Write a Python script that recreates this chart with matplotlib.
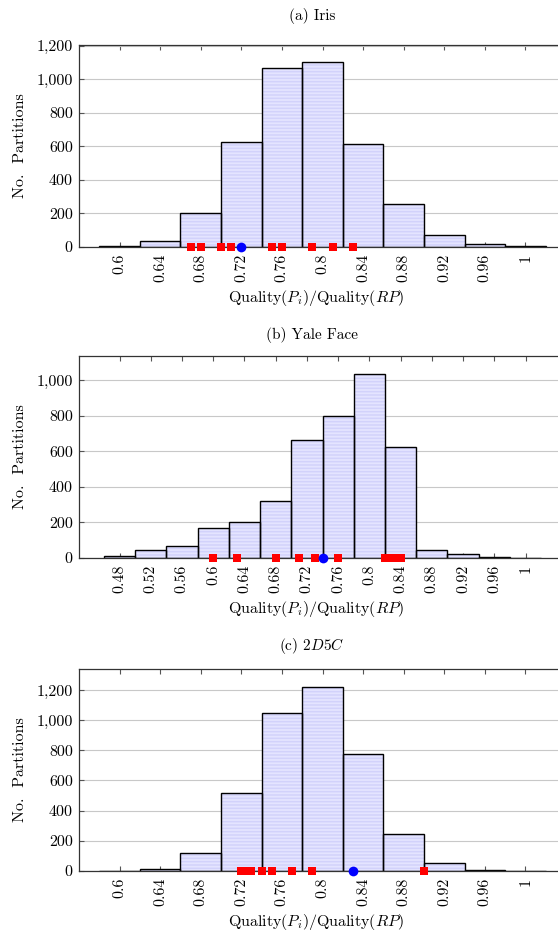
import numpy as np
import matplotlib
matplotlib.use("Agg")
import matplotlib.pyplot as plt
from matplotlib.ticker import FuncFormatter

# Donnees --------------------------------------------------------------------
iris_centers = [0.60, 0.64, 0.68, 0.72, 0.76, 0.80, 0.84, 0.88, 0.92, 0.96, 1.00]
iris_counts = [2, 32, 199, 626, 1065, 1102, 612, 257, 68, 14, 3]
iris_runs = [0.67, 0.68, 0.70, 0.71, 0.75, 0.76, 0.79, 0.81, 0.83]
iris_best = [0.72]

yale_centers = [0.48, 0.52, 0.56, 0.60, 0.64, 0.68, 0.72, 0.76, 0.80, 0.84,
                0.88, 0.92, 0.96, 1.00]
yale_counts = [9, 43, 67, 166, 200, 319, 666, 798, 1032, 623, 47, 20, 6, 2]
yale_runs = [0.60, 0.63, 0.68, 0.71, 0.73, 0.76, 0.82, 0.83, 0.84]
yale_best = [0.74]

d2c5_centers = [0.60, 0.64, 0.68, 0.72, 0.76, 0.80, 0.84, 0.88, 0.92, 0.96, 1.00]
d2c5_counts = [2, 11, 121, 520, 1046, 1218, 773, 242, 55, 9, 2]
d2c5_runs = [0.72, 0.725, 0.73, 0.74, 0.75, 0.77, 0.79, 0.90]
d2c5_best = [0.83]

titles = ["(a) Iris", "(b) Yale Face", "(c) $2D5C$"]
xlabel = "Quality($P_i$)/Quality($RP$)"
ylabel = "No.  Partitions"


def main():
    plt.rcParams["font.family"] = "serif"
    plt.rcParams["font.serif"] = ["cmr10", "DejaVu Serif"]
    plt.rcParams["mathtext.fontset"] = "cm"
    plt.rcParams["axes.formatter.use_mathtext"] = True
    plt.rcParams["hatch.linewidth"] = 1.1

    W, H = 558, 934
    fig = plt.figure(figsize=(W / 100, H / 100), dpi=100)

    # (centres, comptes, runs, meilleur, ymax, yticks, haut de l'axe px, titre px)
    panels = [
        (iris_centers, iris_counts, iris_runs, iris_best, 1206,
         np.arange(0, 1201, 200), 44.7, 15.5),
        (yale_centers, yale_counts, yale_runs, yale_best, 1136,
         np.arange(0, 1001, 200), 356.0, 335.5),
        (d2c5_centers, d2c5_counts, d2c5_runs, d2c5_best, 1339,
         np.arange(0, 1201, 200), 669.0, 646.0),
    ]

    left_px, right_px, h_px = 79.0, 566.0, 202.0
    first_px, last_px = 119.5, 525.5

    for i, (cent, cnt, runs, best, ymax, yt, top_px, title_px) in enumerate(panels):
        ax = fig.add_axes([left_px / W, 1 - (top_px + h_px) / H,
                           (right_px - left_px) / W, h_px / H])

        # limites x : premiere / derniere graduation a ~40 px des bords
        per_px = (cent[-1] - cent[0]) / (last_px - first_px)
        ax.set_xlim(cent[0] - (first_px - left_px) * per_px,
                    cent[-1] + (right_px - last_px) * per_px)
        ax.set_ylim(0, ymax)

        width = cent[1] - cent[0]
        ax.bar(cent, cnt, width=width, color="#e4e4ff", edgecolor="#d2d2fb",
               hatch="-----", linewidth=0, zorder=1)
        ax.bar(cent, cnt, width=width, fill=False, edgecolor="black",
               linewidth=1.0, zorder=2)

        ax.plot(runs, np.zeros(len(runs)), "s", color="#ff0000", ms=6.2,
                mew=0, clip_on=False, zorder=6)
        ax.plot(best, np.zeros(len(best)), "o", color="#0000ff", ms=7.0,
                mew=0, clip_on=False, zorder=7)

        ax.set_axisbelow(True)
        ax.yaxis.grid(True, color="#c8c8c8", linewidth=0.8)
        ax.set_xticks(cent)
        ax.set_xticklabels(["%g" % c for c in cent], rotation=90)
        ax.set_yticks(yt)
        ax.yaxis.set_major_formatter(FuncFormatter(lambda v, p: "{:,}".format(int(v))))
        ax.tick_params(axis="both", direction="in", length=3.5, width=0.8,
                       color="#555555", labelsize=11.5)
        ax.tick_params(axis="x", top=True, pad=5)
        ax.tick_params(axis="y", right=True, pad=4.5)
        for s in ax.spines.values():
            s.set_color("#333333")
            s.set_linewidth(0.9)

        ax.set_xlabel(xlabel, fontsize=11.5)
        ax.xaxis.label.set_va("center")
        ax.xaxis.set_label_coords((316 - left_px) / (right_px - left_px), -51 / h_px)
        ax.set_ylabel(ylabel, fontsize=11.5)
        ax.yaxis.label.set_va("center")
        ax.yaxis.set_label_coords((20 - left_px) / (right_px - left_px), 0.5)

        fig.text(312 / W, 1 - title_px / H, titles[i], ha="center", va="center",
                 fontsize=11)

    fig.savefig("out.png", dpi=100)


if __name__ == "__main__":
    main()
